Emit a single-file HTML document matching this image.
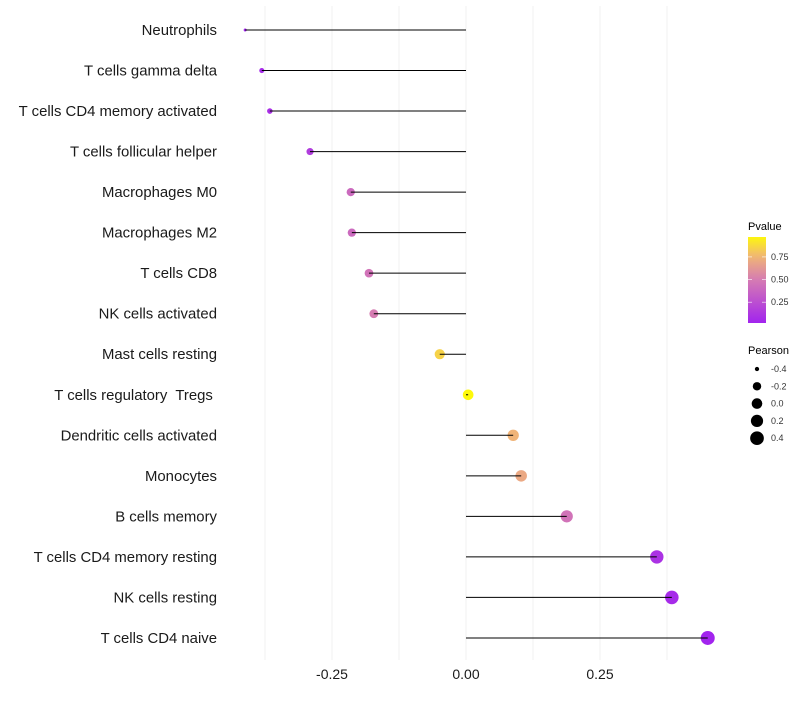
<!DOCTYPE html>
<html><head><meta charset="utf-8"><style>
body{margin:0;background:#fff;font-family:"Liberation Sans",sans-serif}
svg text{font-family:"Liberation Sans",sans-serif;white-space:pre}
</style></head><body>
<svg id="chart" width="800" height="700" xmlns="http://www.w3.org/2000/svg"></svg>
<script>
const categories=["Neutrophils","T cells gamma delta","T cells CD4 memory activated","T cells follicular helper","Macrophages M0","Macrophages M2","T cells CD8","NK cells activated","Mast cells resting","T cells regulatory  Tregs ","Dendritic cells activated","Monocytes","B cells memory","T cells CD4 memory resting","NK cells resting","T cells CD4 naive"];
const pearson=[-0.412,-0.381,-0.366,-0.291,-0.215,-0.213,-0.181,-0.172,-0.049,0.004,0.088,0.103,0.188,0.356,0.384,0.451];
const pvalue=[0.02,0.06,0.08,0.15,0.4,0.4,0.45,0.5,0.85,0.98,0.75,0.7,0.45,0.1,0.06,0.02];
const xTicks=[-0.25,0,0.25];
const xTickLabels=["-0.25","0.00","0.25"];
const gridVals=[-0.375,-0.25,-0.125,0,0.125,0.25,0.375];
const legendP=[0.75,0.5,0.25];
const legendS=[-0.4,-0.2,0,0.2,0.4];

const NS="http://www.w3.org/2000/svg";
const svg=document.getElementById('chart');
const x=v=>466+v*536;
const y=i=>30+i*40.53;
const vMin=Math.min(...pearson), vMax=Math.max(...pearson);
const r=v=>{const t=Math.max(0,(v-vMin)/(vMax-vMin));return 1.5+5.5*Math.sqrt(t);};
function col(p){
  const stops=[[0,[160,32,240]],[0.5,[214,124,178]],[0.75,[240,180,120]],[1,[255,255,0]]];
  for(let k=1;k<stops.length;k++){if(p<=stops[k][0]){const a=stops[k-1],b=stops[k];const t=(p-a[0])/(b[0]-a[0]);return 'rgb('+a[1].map((c,j)=>Math.round(c+(b[1][j]-c)*t)).join(',')+')';}}
  return 'rgb(255,255,0)';
}
function el(t,a,txt){const e=document.createElementNS(NS,t);for(const k in a)e.setAttribute(k,a[k]);if(txt!==undefined)e.textContent=txt;svg.appendChild(e);return e;}

gridVals.forEach(g=>{const e=el('line',{x1:x(g),x2:x(g),y1:6,y2:660,stroke:'#f0f0f0','stroke-width':1});

});

categories.forEach((c,i)=>{
  const t=el('text',{x:217,y:y(i)+5,'text-anchor':'end','font-size':14.9,fill:'#1a1a1a'},c);
  
  
  const d=el('circle',{cx:x(pearson[i]),cy:y(i),r:r(pearson[i]),fill:col(pvalue[i])});
  
  
  const l=el('line',{x1:x(0),x2:x(pearson[i]),y1:y(i),y2:y(i),stroke:'#000','stroke-width':1});
  
  
});

xTicks.forEach((v,i)=>{const t=el('text',{x:x(v),y:679,'text-anchor':'middle','font-size':14,fill:'#1a1a1a'},xTickLabels[i]);

});

let t=el('text',{x:748,y:230,'font-size':11,fill:'#000'},'Pvalue');


const defs=el('defs',{});
const lg=document.createElementNS(NS,'linearGradient');lg.setAttribute('id','pg');lg.setAttribute('x1','0');lg.setAttribute('x2','0');lg.setAttribute('y1','1');lg.setAttribute('y2','0');
for(let k=0;k<=10;k++){const p=0.02+k*0.095;const s=document.createElementNS(NS,'stop');s.setAttribute('offset',k/10);s.setAttribute('stop-color',col(p));lg.appendChild(s);}
defs.appendChild(lg);
const bar=el('rect',{x:748,y:237,width:18,height:86,fill:'url(#pg)'});


const py=p=>323-(p-0.02)/0.95*86;
legendP.forEach(p=>{
  el('line',{x1:748,x2:752,y1:py(p),y2:py(p),stroke:'#fff','stroke-width':0.6});
  el('line',{x1:762,x2:766,y1:py(p),y2:py(p),stroke:'#fff','stroke-width':0.6});
  const tt=el('text',{x:771,y:py(p)+3,'font-size':9,fill:'#333'},p.toFixed(2));
  
  
});
t=el('text',{x:748,y:354,'font-size':11,fill:'#000'},'Pearson');


legendS.forEach((v,i)=>{
  const cy=369+i*17.3;
  const c=el('circle',{cx:757,cy:cy,r:r(v),fill:'#000'});
  
  
  const tt=el('text',{x:771,y:cy+3,'font-size':9,fill:'#333'},v.toFixed(1));
  
  
});
</script>
</body></html>
